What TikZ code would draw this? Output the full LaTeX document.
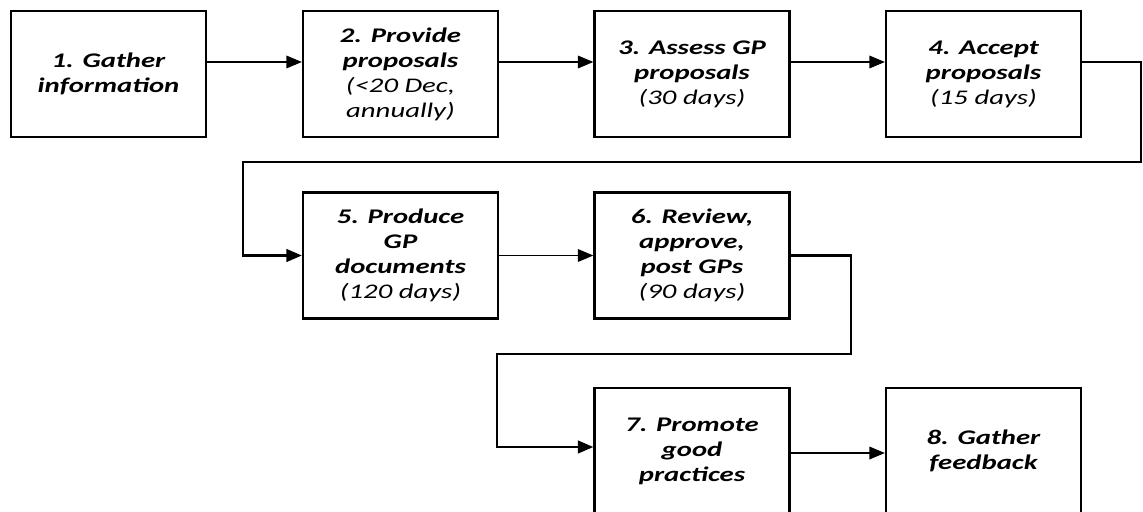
\documentclass[tikz,border=0pt]{standalone}
\usepackage{fontspec}
\setmainfont[FakeStretch=1.38]{Carlito}
\usepackage{tikz}
\usetikzlibrary{arrows.meta,positioning}

\begin{document}
\begin{tikzpicture}[
        x=0.025cm, y=-0.025cm,
        stage/.style={rectangle, draw, line width=1.6pt, fill=white, minimum width=4.875cm, minimum height=3.15cm, align=center, font=\fontsize{14.8}{17.8}\selectfont\bfseries\itshape},
        arrow/.style={line width=0.9pt, ->, >={Triangle[length=11pt, width=9pt]}},
        elbow/.style={line width=1.6pt, ->, >={Triangle[length=11pt, width=9pt]}}
    ]
        \useasboundingbox (0,0) rectangle (1143,512);
        \clip (0,0) rectangle (1143,512);

        % Top row
        \node[stage] (gather) at (108.5,74) {1. Gather\\information};
        \node[stage] (provide) at (400.5,74) {2. Provide\\proposals\\\mdseries(<20 Dec,\\\mdseries annually)};
        \node[stage] (assess) at (692,74) {3. Assess GP\\proposals\\\mdseries(30 days)};
        \node[stage] (accept) at (983.5,74) {4. Accept\\proposals\\\mdseries(15 days)};

        % Middle row
        \node[stage] (produce) at (400.5,255.5) {5. Produce\\GP\\documents\\\mdseries(120 days)};
        \node[stage] (review) at (692,255.5) {6. Review,\\approve,\\post GPs\\\mdseries(90 days)};

        % Bottom row
        \node[stage] (promote) at (692,451) {7. Promote\\good\\practices};
        \node[stage] (feedback) at (983.5,451) {8. Gather\\feedback};

        % Bends of the row changes
        \coordinate (turnA) at (1141,162);
        \coordinate (backA) at (243,162);
        \coordinate (turnB) at (851,354);
        \coordinate (backB) at (497,354);

        % Connections
        \draw[arrow] ([yshift=0.3cm]gather.east) -- ([yshift=0.3cm]provide.west);
        \draw[arrow] ([yshift=0.3cm]provide.east) -- ([yshift=0.3cm]assess.west);
        \draw[arrow] ([yshift=0.3cm]assess.east) -- ([yshift=0.3cm]accept.west);
        \draw[elbow] ([yshift=0.3cm]accept.east) -| (turnA) -- (backA) |- (produce.west);
        \draw[arrow] (produce) -- (review);
        \draw[elbow] (review.east) -| (turnB) -- (backB) |- ([yshift=0.1cm]promote.west);
        \draw[arrow] ([yshift=-0.05cm]promote.east) -- ([yshift=-0.05cm]feedback.west);
    \end{tikzpicture}
\end{document}
